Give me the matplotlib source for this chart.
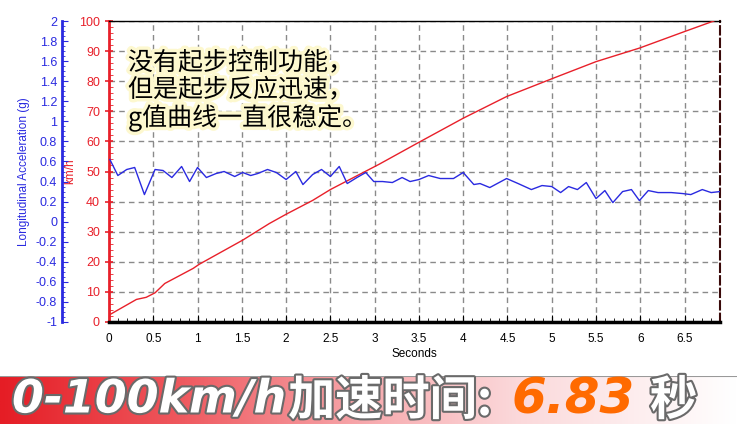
import numpy as np
import matplotlib
matplotlib.use('Agg')
import matplotlib.pyplot as plt
import matplotlib.patheffects as pe
from matplotlib.colors import LinearSegmentedColormap
from matplotlib.ticker import AutoMinorLocator, FuncFormatter

# speed curve (km/h)
t_speed = [0, 0.31, 0.42, 0.52, 0.63, 0.95, 1.02, 1.51, 1.81, 2.00, 2.30, 2.50,
           3.05, 3.50, 4.00, 4.49, 5.00, 5.50, 5.99, 6.50, 6.83]
speed = [2.3, 7.5, 8.2, 9.7, 12.8, 17.8, 19.2, 27.2, 32.7, 35.8, 40.4, 44.0,
         52.4, 59.7, 67.7, 74.9, 80.8, 86.5, 91.0, 96.5, 100]

# longitudinal acceleration (g)
t_acc = [0.01, 0.10, 0.20, 0.29, 0.40, 0.52, 0.61, 0.71, 0.82, 0.91, 1.00, 1.10,
         1.21, 1.30, 1.42, 1.51, 1.60, 1.68, 1.79, 1.89, 2.00, 2.11, 2.19, 2.30,
         2.40, 2.50, 2.60, 2.69, 2.80, 2.90, 2.99, 3.09, 3.20, 3.31, 3.40, 3.50,
         3.61, 3.74, 3.89, 4.00, 4.12, 4.19, 4.30, 4.49, 4.62, 4.77, 4.89, 5.00,
         5.10, 5.19, 5.29, 5.39, 5.50, 5.60, 5.69, 5.80, 5.90, 5.99, 6.09, 6.20,
         6.35, 6.48, 6.57, 6.70, 6.80, 6.90]
acc = [0.62, 0.46, 0.52, 0.54, 0.27, 0.52, 0.51, 0.44, 0.55, 0.40, 0.54, 0.44,
       0.48, 0.50, 0.45, 0.49, 0.46, 0.48, 0.52, 0.49, 0.42, 0.50, 0.37, 0.47,
       0.52, 0.45, 0.55, 0.38, 0.44, 0.49, 0.40, 0.40, 0.39, 0.44, 0.40, 0.42,
       0.46, 0.43, 0.43, 0.49, 0.37, 0.38, 0.34, 0.43, 0.38, 0.32, 0.36, 0.35,
       0.29, 0.35, 0.32, 0.39, 0.23, 0.31, 0.19, 0.30, 0.32, 0.21, 0.31, 0.29,
       0.29, 0.28, 0.27, 0.32, 0.29, 0.30]

x_ticks = [0, 0.5, 1, 1.5, 2, 2.5, 3, 3.5, 4, 4.5, 5, 5.5, 6, 6.5]
speed_ticks = [0, 10, 20, 30, 40, 50, 60, 70, 80, 90, 100]
acc_ticks = [-1, -0.8, -0.6, -0.4, -0.2, 0, 0.2, 0.4, 0.6, 0.8, 1, 1.2, 1.4, 1.6, 1.8, 2]

note = "没有起步控制功能，\n但是起步反应迅速，\ng值曲线一直很稳定。"
banner_a = "0-100km/h"
banner_cn = "加速时间:"
banner_b = "6.83"
banner_c = "秒"

RED = '#e8202a'
BLUE = '#2a2ae0'
W, H = 737, 424

plt.rcParams['font.family'] = ['Liberation Sans', 'DejaVu Sans']
fig = plt.figure(figsize=(W / 100, H / 100), dpi=100)
fig.patch.set_facecolor('white')

# banner strip at the bottom
bax = fig.add_axes([0, 0, 1, 48 / H])
cmap = LinearSegmentedColormap.from_list(
    'band', [(0, '#e51d25'), (0.25, '#ef5a60'), (0.5, '#f7aaae'), (0.7, '#fbd8da'), (1, '#ffffff')])
bax.imshow(np.linspace(0, 1, 256)[None, :], aspect='auto', cmap=cmap, extent=[0, 1, 0, 1])
bax.axhline(1, color='#999999', lw=1.5)
bax.set_xlim(0, 1)
bax.set_ylim(0, 1)
bax.axis('off')

shadow = [pe.Stroke(linewidth=3, foreground='#6a6a6a'), pe.Normal()]
fig.text(12 / W, 24 / H, banner_a, color='white', fontsize=33, weight='bold', style='italic',
         family=['DejaVu Sans'], va='center', ha='left', path_effects=shadow)
fig.text(288 / W, 23 / H, banner_cn, color='white', fontsize=34, weight='black',
         family=['Noto Sans CJK SC'], va='center', ha='left', path_effects=shadow)
fig.text(512 / W, 24 / H, banner_b, color='#ff6a00', fontsize=36, weight='bold', style='italic',
         family=['DejaVu Sans'], va='center', ha='left')
fig.text(650 / W, 23 / H, banner_c, color='white', fontsize=34, weight='black',
         family=['Noto Sans CJK SC'], va='center', ha='left', path_effects=shadow)

# main chart: speed on red axis
ax = fig.add_axes([109 / W, 1 - 322 / H, (720 - 109) / W, (322 - 21) / H])
ax.set_xlim(0, 6.9)
ax.set_ylim(0, 100)
ax.set_xticks(x_ticks)
ax.set_xticklabels([f'{v:g}' for v in x_ticks])
ax.xaxis.set_minor_locator(AutoMinorLocator(5))
ax.set_yticks(speed_ticks)
ax.yaxis.set_minor_locator(AutoMinorLocator(5))
ax.grid(True, which='major', color='#8a8a8a', linestyle=(0, (4, 3)), linewidth=1)
ax.set_axisbelow(True)

ax.spines['left'].set_color(RED)
ax.spines['left'].set_linewidth(2)
ax.spines['bottom'].set_color('black')
ax.spines['bottom'].set_linewidth(2.5)
ax.spines['top'].set_linewidth(1)
ax.spines['right'].set_color('#3a0a0a')
ax.spines['right'].set_linestyle((0, (4, 2)))
ax.spines['right'].set_linewidth(1.5)

ax.tick_params(axis='y', which='major', colors=RED, labelcolor=RED, labelsize=9, direction='inout', length=6, width=1.2)
ax.tick_params(axis='y', which='minor', colors=RED, direction='in', length=3)
ax.tick_params(axis='x', which='major', direction='in', length=5, labelsize=8.5, pad=8)
ax.tick_params(axis='x', which='minor', direction='in', length=3)
ax.set_xlabel('Seconds', fontsize=8.5, labelpad=2)
ax.set_ylabel('km/h', color=RED, fontsize=8.5)
ax.yaxis.set_label_coords(-0.053, 0.5)

ax.plot(t_speed, speed, color=RED, lw=1, zorder=3)

# acceleration on a blue axis further left
ax2 = ax.twinx()
ax2.set_ylim(-1, 2)
ax2.yaxis.set_ticks_position('left')
ax2.yaxis.set_label_position('left')
ax2.spines['left'].set_position(('axes', -0.077))
ax2.spines['left'].set_color(BLUE)
ax2.spines['left'].set_linewidth(2)
for s in ['right', 'top', 'bottom']:
    ax2.spines[s].set_visible(False)
ax2.set_yticks(acc_ticks)
ax2.yaxis.set_major_formatter(FuncFormatter(lambda v, p: f'{round(v, 1):g}'))
ax2.yaxis.set_minor_locator(AutoMinorLocator(4))
ax2.tick_params(axis='y', which='major', colors=BLUE, labelcolor=BLUE, labelsize=9, direction='in', length=4)
ax2.tick_params(axis='y', which='minor', colors=BLUE, direction='in', length=2.5)
ax2.set_ylabel('Longitudinal Acceleration (g)', color=BLUE, fontsize=8.5, labelpad=4)
ax2.plot(t_acc, acc, color=BLUE, lw=1, zorder=2)

# note in the upper left
fig.text(128 / W, 1 - 50 / H, note, fontsize=18, color='black', va='top', ha='left',
         family=['Noto Sans CJK SC', 'DejaVu Sans'], linespacing=1.05,
         path_effects=[pe.withStroke(linewidth=5, foreground='#fdf8cf')])

fig.savefig('out.png', dpi=100)
